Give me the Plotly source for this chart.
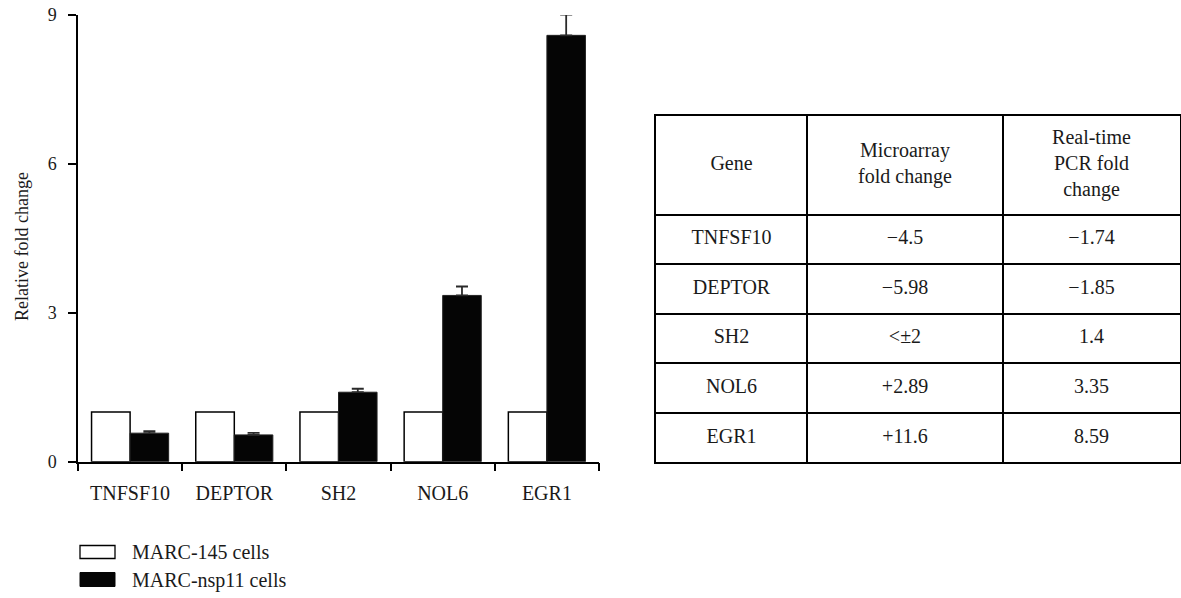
import numpy as np
import plotly.graph_objects as go

# ---- data -------------------------------------------------------------
genes = ["TNFSF10", "DEPTOR", "SH2", "NOL6", "EGR1"]
marc145 = [1.0, 1.0, 1.0, 1.0, 1.0]
marc_nsp11 = [0.575, 0.54, 1.4, 3.35, 8.59]
marc_nsp11_err = [0.04, 0.04, 0.07, 0.18, 0.42]
series_names = ["MARC-145 cells", "MARC-nsp11 cells"]

y_ticks = [0, 3, 6, 9]

table_header = ["Gene", "Microarray<br>fold change", "Real-time<br>PCR fold<br>change"]
microarray_fc = ["−4.5", "−5.98", "<±2", "+2.89", "+11.6"]
pcr_fc = ["−1.74", "−1.85", "1.4", "3.35", "8.59"]

# ---- styling ----------------------------------------------------------
FONT = "Liberation Serif"
TEXT = "#1a1a1a"
W, H = 1181, 598
col_widths = [151, 196, 177]          # table column widths
header_rows = 2                        # header spans two body-row heights

fig = go.Figure()

fig.add_trace(go.Bar(
    x=genes, y=marc145, name=series_names[0],
    marker=dict(color="white", line=dict(color="#000000", width=1.5)),
    showlegend=False, hoverinfo="x+y",
))
fig.add_trace(go.Bar(
    x=genes, y=marc_nsp11, name=series_names[1],
    marker=dict(color="#050505", line=dict(color="#222222", width=1)),
    error_y=dict(type="data", array=marc_nsp11_err,
                 arrayminus=[0] * len(marc_nsp11_err), symmetric=False,
                 color="#2a2a2a", thickness=1.8, width=6),
    showlegend=False, hoverinfo="x+y",
))

# ---- table drawn on its own axes -------------------------------------
bounds = np.concatenate([[0], np.cumsum(col_widths)])
col_centers = (bounds[:-1] + bounds[1:]) / 2
n_rows = len(genes)
total_rows = n_rows + header_rows
row_centers = [n_rows - i - 0.5 for i in range(n_rows)]

cell_x, cell_y, cell_text = [], [], []
for c, txt in enumerate(table_header):
    cell_x.append(col_centers[c])
    cell_y.append(n_rows + header_rows / 2)
    cell_text.append(txt)
for r in range(n_rows):
    for c, col in enumerate([genes, microarray_fc, pcr_fc]):
        cell_x.append(col_centers[c])
        cell_y.append(row_centers[r])
        cell_text.append(col[r])

fig.add_trace(go.Scatter(
    x=cell_x, y=cell_y, text=cell_text, mode="text",
    textposition="middle center",
    textfont=dict(family=FONT, size=20, color=TEXT),
    xaxis="x2", yaxis="y2", showlegend=False, hoverinfo="skip",
))

# ---- legend swatches --------------------------------------------------
def px_x(v):
    return v / W

def px_y(v):
    return 1 - v / H

shapes = [
    dict(type="rect", xref="paper", yref="paper",
         x0=px_x(80), x1=px_x(115), y0=px_y(558.5), y1=px_y(545.5),
         fillcolor="white", line=dict(color="#000", width=1.3)),
    dict(type="rect", xref="paper", yref="paper",
         x0=px_x(80), x1=px_x(115), y0=px_y(586.5), y1=px_y(572.5),
         fillcolor="#050505", line=dict(color="#050505", width=1)),
]
annotations = [
    dict(text=series_names[0], xref="paper", yref="paper",
         x=px_x(130), y=px_y(552), xanchor="left", yanchor="middle",
         showarrow=False, font=dict(family=FONT, size=20, color=TEXT)),
    dict(text=series_names[1], xref="paper", yref="paper",
         x=px_x(130), y=px_y(580), xanchor="left", yanchor="middle",
         showarrow=False, font=dict(family=FONT, size=20, color=TEXT)),
    dict(text="Relative fold change", xref="paper", yref="paper",
         x=px_x(22), y=px_y(247), xanchor="center", yanchor="middle",
         textangle=-90, showarrow=False,
         font=dict(family=FONT, size=18, color=TEXT)),
]

fig.update_layout(
    template="none",
    autosize=False, width=W, height=H,
    margin=dict(l=0, r=0, t=0, b=0, pad=0),
    paper_bgcolor="white", plot_bgcolor="white",
    barmode="group", bargap=0.26, bargroupgap=0,
    font=dict(family=FONT, color=TEXT),
    shapes=shapes, annotations=annotations,
    xaxis=dict(
        domain=[78 / W, 599 / W], range=[-0.5, len(genes) - 0.5],
        type="category", tickson="boundaries", automargin=False,
        showline=True, linecolor="#000", linewidth=1.5,
        ticks="outside", ticklen=8, tickwidth=1.5, tickcolor="#000",
        ticklabelstandoff=13,
        tickfont=dict(family=FONT, size=20, color=TEXT),
        showgrid=False, zeroline=False, fixedrange=True,
    ),
    yaxis=dict(
        domain=[1 - 461.7 / H, 1 - 15 / H], range=[0, 9], automargin=False,
        tickvals=y_ticks, ticktext=[str(t) for t in y_ticks],
        showline=True, linecolor="#000", linewidth=1.5,
        ticks="outside", ticklen=8, tickwidth=1.5, tickcolor="#000",
        ticklabelstandoff=8,
        tickfont=dict(family=FONT, size=18, color=TEXT),
        showgrid=False, zeroline=False, fixedrange=True,
    ),
    xaxis2=dict(
        domain=[656 / W, 1180 / W], range=[0, bounds[-1]], anchor="y2",
        automargin=False,
        tickvals=list(bounds[1:-1]), showticklabels=False, ticks="",
        showgrid=True, gridcolor="#000", gridwidth=1.5,
        showline=True, mirror=True, linecolor="#000", linewidth=1.5,
        zeroline=False, fixedrange=True,
    ),
    yaxis2=dict(
        domain=[1 - 462.3 / H, 1 - 115.7 / H], range=[0, total_rows], anchor="x2",
        automargin=False,
        tickvals=list(range(1, n_rows + 1)), showticklabels=False, ticks="",
        showgrid=True, gridcolor="#000", gridwidth=1.5,
        showline=True, mirror=True, linecolor="#000", linewidth=1.5,
        zeroline=False, fixedrange=True,
    ),
)

fig.write_html("out.html", config={"displayModeBar": False})
